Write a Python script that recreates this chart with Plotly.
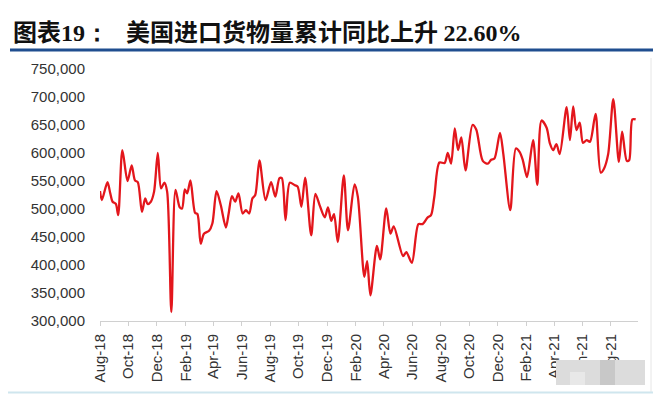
import pandas as pd
import plotly.graph_objects as go

# ---- data ----
dates = [
    "2018-08-01", "2018-08-05", "2018-08-17", "2018-08-23", "2018-08-28", "2018-09-04", "2018-09-09",
    "2018-09-18", "2018-09-29", "2018-10-08", "2018-10-15", "2018-10-21", "2018-10-30", "2018-11-06",
    "2018-11-11", "2018-11-18", "2018-11-25", "2018-12-03", "2018-12-10", "2018-12-17", "2018-12-23",
    "2019-01-01", "2019-01-10", "2019-01-19", "2019-01-24", "2019-01-30", "2019-02-04", "2019-02-11",
    "2019-02-21", "2019-02-26", "2019-03-05", "2019-03-12", "2019-03-23", "2019-03-30", "2019-04-08",
    "2019-04-17", "2019-04-28", "2019-05-04", "2019-05-11", "2019-05-18", "2019-05-25", "2019-06-03",
    "2019-06-10", "2019-06-17", "2019-06-24", "2019-06-30", "2019-07-09", "2019-07-22", "2019-08-03",
    "2019-08-12", "2019-08-21", "2019-08-26", "2019-09-03", "2019-09-12", "2019-09-22", "2019-09-29",
    "2019-10-07", "2019-10-15", "2019-10-28", "2019-11-06", "2019-11-15", "2019-11-26", "2019-12-03",
    "2019-12-10", "2019-12-16", "2019-12-24", "2020-01-06", "2020-01-15", "2020-01-29", "2020-02-05",
    "2020-02-19", "2020-02-25", "2020-03-03", "2020-03-17", "2020-03-24", "2020-04-06", "2020-04-15",
    "2020-04-22", "2020-05-12", "2020-05-19", "2020-05-31", "2020-06-14", "2020-06-23", "2020-07-04",
    "2020-07-11", "2020-07-18", "2020-07-29", "2020-08-09", "2020-08-16", "2020-08-23", "2020-08-31",
    "2020-09-07", "2020-09-14", "2020-09-23", "2020-10-08", "2020-10-16", "2020-10-30", "2020-11-10",
    "2020-11-17", "2020-11-24", "2020-12-06", "2020-12-13", "2020-12-28", "2021-01-09", "2021-01-17",
    "2021-01-24", "2021-02-02", "2021-02-15", "2021-02-24", "2021-03-05", "2021-03-16", "2021-03-23",
    "2021-03-30", "2021-04-06", "2021-04-13", "2021-04-28", "2021-05-05", "2021-05-12", "2021-05-19",
    "2021-05-26", "2021-06-02", "2021-06-10", "2021-06-17", "2021-06-29", "2021-07-10", "2021-07-17",
    "2021-07-26", "2021-08-06", "2021-08-18", "2021-08-25", "2021-09-04", "2021-09-09", "2021-09-16",
    "2021-09-23",
]
import_volume = [
    532000, 516000, 548000, 528000, 513000, 509000, 489000,
    605000, 550000, 578000, 551000, 548000, 495000, 519000,
    509000, 513000, 531000, 600000, 537000, 547000, 531000,
    316000, 534000, 503000, 501000, 535000, 528000, 551000,
    493000, 491000, 438000, 456000, 461000, 474000, 532000,
    507000, 467000, 492000, 523000, 513000, 528000, 492000,
    498000, 492000, 519000, 525000, 587000, 516000, 548000,
    522000, 555000, 555000, 480000, 547000, 543000, 540000,
    504000, 556000, 453000, 527000, 507000, 485000, 503000,
    479000, 491000, 441000, 560000, 462000, 544000, 522000,
    379000, 407000, 346000, 434000, 410000, 501000, 456000,
    469000, 416000, 423000, 404000, 473000, 473000, 485000,
    489000, 521000, 583000, 582000, 600000, 581000, 644000,
    605000, 628000, 569000, 650000, 642000, 586000, 581000,
    588000, 590000, 636000, 599000, 498000, 608000, 602000,
    587000, 557000, 623000, 543000, 658000, 645000, 617000,
    605000, 616000, 598000, 682000, 623000, 683000, 641000,
    654000, 618000, 623000, 620000, 670000, 565000, 572000,
    598000, 696000, 584000, 638000, 586000, 587000, 660000,
    660000,
]
y_ticks = [300000, 350000, 400000, 450000, 500000, 550000, 600000, 650000, 700000, 750000]
title_prefix = "图表19："
title_main = "美国进口货物量累计同比上升"
title_value = "22.60%"

# ---- layout geometry (pixels, in reference-image coordinates) ----
OFF = 8                      # the page body has an 8px default margin
W, H = 661 - OFF, 394 - OFF  # figure size
PL, PR, PT, PB = 100, 638, 69, 321   # plot area edges in the reference image
ML, MT = PL - OFF, PT - OFF
MR = W - (PR - OFF)
MB = H - (PB - OFF)
PW, PH = PR - PL, PB - PT


def px_x(px):
    return (px - PL) / PW


def px_y(py):
    return (PB - py) / PH


fig = go.Figure()
fig.add_trace(go.Scatter(
    x=pd.to_datetime(dates), y=import_volume, mode="lines",
    line=dict(color="#E3161C", width=2.3, shape="spline", smoothing=0.8),
    hoverinfo="x+y", showlegend=False,
))

tick_font = dict(family="Liberation Sans, Arial, sans-serif", size=15, color="#333333")
cjk = "Noto Sans CJK SC"
serif = "Liberation Serif"

fig.update_layout(
    width=W, height=H,
    margin=dict(l=ML, r=MR, t=MT, b=MB),
    paper_bgcolor="white", plot_bgcolor="white",
    annotations=[
        dict(text=(f"<b><span style='font-family:{cjk}'>{title_prefix[:2]}</span>"
                   f"<span style='font-family:{serif}'>{title_prefix[2:]}</span></b>"),
             xref="paper", yref="paper", x=px_x(11), y=px_y(30),
             xanchor="left", yanchor="middle", showarrow=False,
             font=dict(family=cjk, size=24, color="#111111")),
        dict(text=(f"<b>{title_main} "
                   f"<span style='font-family:{serif}'>{title_value}</span></b>"),
             xref="paper", yref="paper", x=px_x(124), y=px_y(30),
             xanchor="left", yanchor="middle", showarrow=False,
             font=dict(family=cjk, size=24, color="#111111")),
    ],
    xaxis=dict(
        type="date",
        range=["2018-08-01", "2021-09-28"],
        tick0="2018-08-01", dtick="M2", tickformat="%b-%y",
        tickangle=-90, tickfont=tick_font,
        showgrid=False, zeroline=False,
        showline=True, linecolor="#d0d0d0", linewidth=1,
        ticks="outside", ticklen=4, tickcolor="#d0d0d0",
        ticklabelstandoff=2,
    ),
    yaxis=dict(
        range=[300000, 750000], tickvals=y_ticks,
        tickformat=",d", tickfont=tick_font,
        showgrid=False, zeroline=False, showline=False,
        ticks="", ticklabelstandoff=14,
    ),
    shapes=[
        # blue rule under the title
        dict(type="line", xref="paper", yref="paper",
             x0=px_x(10), x1=px_x(661), y0=px_y(50), y1=px_y(50),
             line=dict(color="#1F4E8F", width=3)),
        # faint frame lines
        dict(type="line", xref="paper", yref="paper",
             x0=px_x(651), x1=px_x(651), y0=px_y(58), y1=px_y(392),
             line=dict(color="#e6e6e6", width=1)),
        dict(type="line", xref="paper", yref="paper",
             x0=px_x(0), x1=px_x(661), y0=px_y(392.5), y1=px_y(392.5),
             line=dict(color="#cfe6ee", width=2)),
        # blurred watermark blocks
        dict(type="rect", xref="paper", yref="paper", layer="above",
             x0=px_x(556), x1=px_x(645), y0=px_y(385), y1=px_y(360),
             fillcolor="#dcdcdc", line=dict(width=0)),
        dict(type="rect", xref="paper", yref="paper", layer="above",
             x0=px_x(600), x1=px_x(615), y0=px_y(385), y1=px_y(360),
             fillcolor="#c8c8c8", line=dict(width=0)),
        dict(type="rect", xref="paper", yref="paper", layer="above",
             x0=px_x(570), x1=px_x(585), y0=px_y(385), y1=px_y(372),
             fillcolor="#e8e8e8", line=dict(width=0)),
    ],
)

fig.write_html("out.html")
